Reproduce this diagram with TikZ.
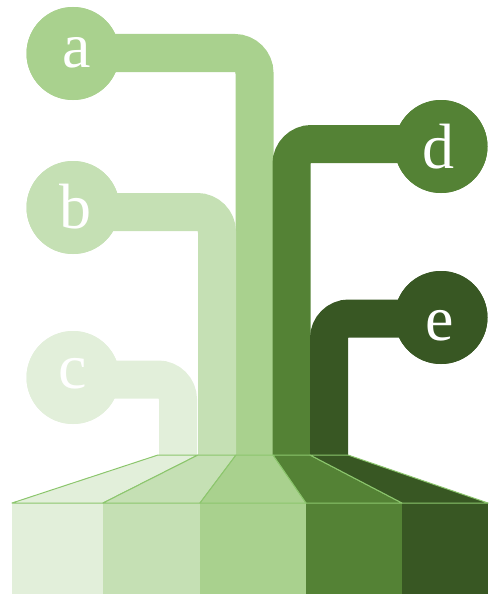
\documentclass[tikz,border=0pt]{standalone}
\usepackage{fontspec}
\setmainfont{Liberation Serif}
\definecolor{cc}{HTML}{E2EFDA}
\definecolor{cb}{HTML}{C5E0B4}
\definecolor{ca}{HTML}{A9D18E}
\definecolor{cd}{HTML}{548235}
\definecolor{ce}{HTML}{385723}
\definecolor{edge}{HTML}{8CC66D}
\begin{document}
\begin{tikzpicture}[x=1pt,y=-1pt,
  bubble/.style={circle,minimum size=93pt,inner sep=0pt,fill=#1},
  letter/.style={anchor=base,inner sep=0pt,text=white,font=\fontsize{64}{64}\selectfont},
  stem/.style={line width=38pt,rounded corners=20pt,draw=#1},
  facet/.style={fill=#1,draw=edge,line width=1pt,line join=round},
  block/.style={fill=#1}]
\useasboundingbox (0,0) rectangle (488,594);
% circles
\node[bubble=ca] (a) at (73,53.5) {};
\node[bubble=cb] (b) at (73,207.5) {};
\node[bubble=cc] (c) at (73,377.5) {};
\node[bubble=cd] (d) at (441,146.5) {};
\node[bubble=ce] (e) at (441,317.5) {};
% stem ends
\coordinate (ea) at (254.5,455);
\coordinate (eb) at (217,455);
\coordinate (ec) at (178,455);
\coordinate (ed) at (291.5,455);
\coordinate (ee) at (329,455);
% bar levels
\coordinate (ya) at (0,53);
\coordinate (yb) at (0,212);
\coordinate (yc) at (0,379.5);
\coordinate (yd) at (0,144);
\coordinate (ye) at (0,318.5);
% stems
\draw[stem=ca] (a |- ya) -- (ea |- ya) -- (ea);
\draw[stem=cb] (b |- yb) -- (eb |- yb) -- (eb);
\draw[stem=cc] (c |- yc) -- (ec |- yc) -- (ec);
\draw[stem=cd] (d |- yd) -- (ed |- yd) -- (ed);
\draw[stem=ce] (e |- ye) -- (ee |- ye) -- (ee);
% redraw circles on top
\node[bubble=ca] at (a) {};
\node[bubble=cb] at (b) {};
\node[bubble=cc] at (c) {};
\node[bubble=cd] at (d) {};
\node[bubble=ce] at (e) {};
% letters
\node[letter] (la) at (76.5,67) {a};
\node[letter] (lb) at (75,228) {b};
\node[letter] (lc) at (72.5,388) {c};
\node[letter] (ld) at (438,168) {d};
\node[letter] (le) at (439.5,340) {e};
% bottom blocks
\fill[block=cc] (12,503) rectangle (103,594);
\fill[block=cb] (103,503) rectangle (200,594);
\fill[block=ca] (200,503) rectangle (306,594);
\fill[block=cd] (306,503) rectangle (402,594);
\fill[block=ce] (402,503) rectangle (488,594);
% facets
\path[facet=cc] (158,455) -- (198,455) -- (103,503) -- (12,503) -- cycle;
\path[facet=cb] (198,455) -- (236,455) -- (200,503) -- (103,503) -- cycle;
\path[facet=ca] (236,455) -- (273,455) -- (306,503) -- (200,503) -- cycle;
\path[facet=cd] (273,455) -- (310,455) -- (402,503) -- (306,503) -- cycle;
\path[facet=ce] (310,455) -- (348,455) -- (488,503) -- (402,503) -- cycle;
\end{tikzpicture}
\end{document}
